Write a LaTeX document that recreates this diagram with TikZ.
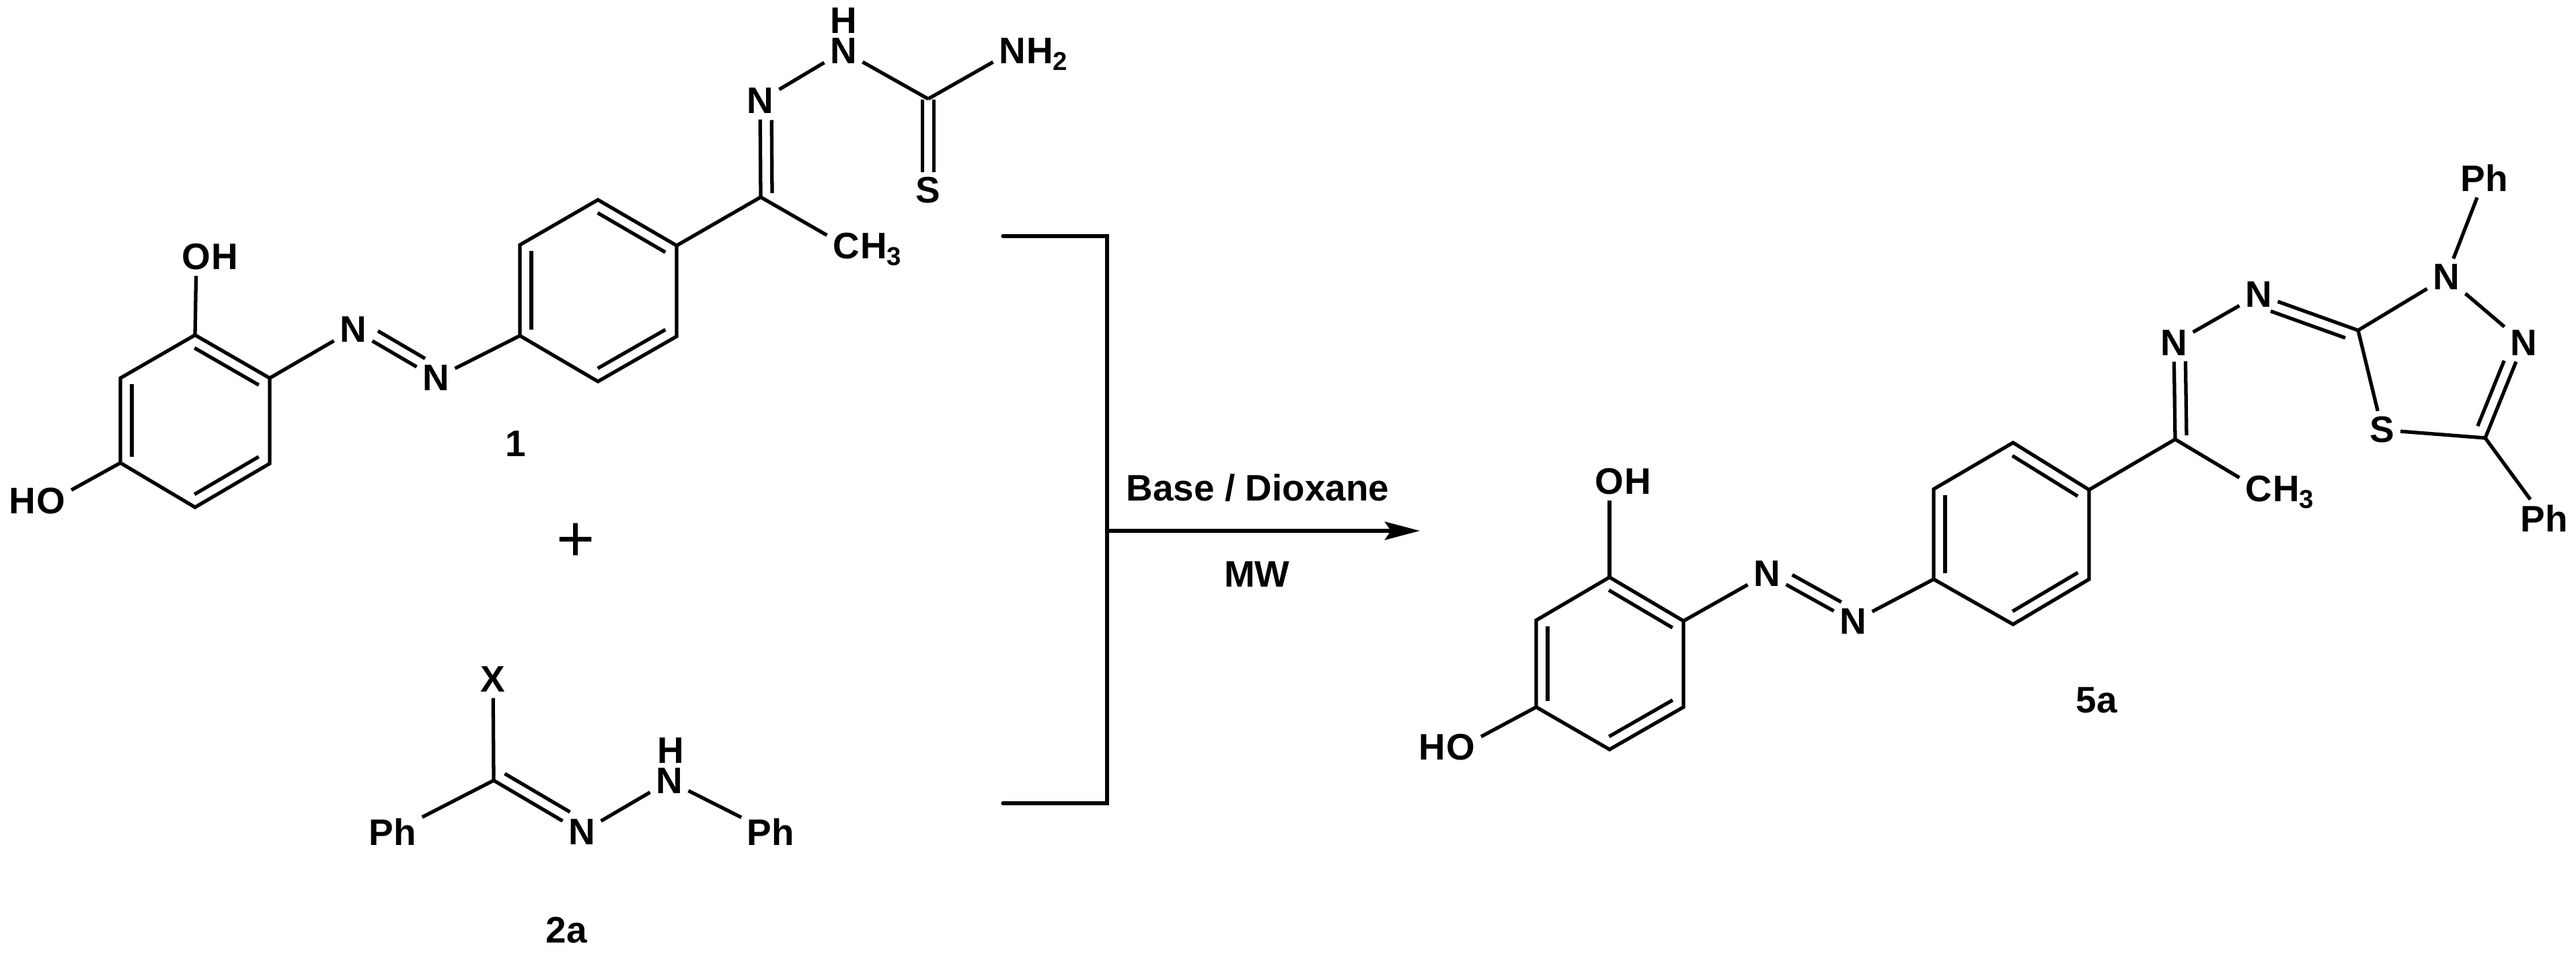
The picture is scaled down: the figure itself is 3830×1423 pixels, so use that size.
\documentclass[tikz,border=0pt]{standalone}
\usepackage{fontspec}
\setmainfont{Liberation Sans}
\usetikzlibrary{positioning}
\usetikzlibrary{calc}
\usetikzlibrary{arrows.meta}
\newcommand{\innerbond}[5][.17cm]{\draw[bond] ($(#2)!#4!(#3)!#1!90:(#3)$) -- ($(#2)!#5!(#3)!#1!90:(#3)$);}

\begin{document}
\begin{tikzpicture}[x=.01cm,y=-.01cm,bond/.style={line width=1.5pt},atom/.style={font=\fontsize{15.6}{18}\selectfont\bfseries,inner sep=.08cm},tail/.style={atom,inner sep=0pt}]
            \useasboundingbox (0,0) rectangle (3830,1423);
            \coordinate (a1) at (290,498);
            \coordinate (a2) at (179,562);
            \coordinate (a3) at (179,688);
            \coordinate (a4) at (290,754);
            \coordinate (a5) at (401,689);
            \coordinate (a6) at (401,562);
            \coordinate (b1) at (889,297);
            \coordinate (b2) at (773,364);
            \coordinate (b3) at (773,499);
            \coordinate (b4) at (889,567);
            \coordinate (b5) at (1006,500);
            \coordinate (b6) at (1006,365);
            \coordinate (pa1) at (2393,858);
            \coordinate (pa2) at (2284,922);
            \coordinate (pa3) at (2284,1051);
            \coordinate (pa4) at (2393,1114);
            \coordinate (pa5) at (2503,1051);
            \coordinate (pa6) at (2503,923);
            \coordinate (pb1) at (2993,658);
            \coordinate (pb2) at (2875,727);
            \coordinate (pb3) at (2875,861);
            \coordinate (pb4) at (2993,928);
            \coordinate (pb5) at (3106,861);
            \coordinate (pb6) at (3106,728);
            \foreach \r in {a,b,pa,pb} {
              \draw[bond] (\r1) -- (\r2) -- (\r3) -- (\r4) -- (\r5) -- (\r6) -- cycle;
              \innerbond{\r2}{\r3}{.07}{.93}
            }
            \innerbond{a4}{a5}{.07}{.93}
            \innerbond{a6}{a1}{.07}{.93}
            \innerbond{b4}{b5}{.07}{.93}
            \innerbond{b6}{b1}{.07}{.93}
            \innerbond{pa4}{pa5}{.07}{.93}
            \innerbond{pa6}{pa1}{.07}{.93}
            \innerbond{pb4}{pb5}{.07}{.93}
            \innerbond{pb6}{pb1}{.07}{.93}

            \node[atom] (oa) at (292,382) {O};
            \node[tail,base right=-.08cm of oa] (oah) {H};
            \node[atom] (ob) at (76,745) {O};
            \node[tail,base left=-.08cm of ob] (obh) {H};
            \node[atom] (na) at (525,490) {N};
            \node[atom] (nb) at (648,562) {N};
            \coordinate (c1) at (1131,293);
            \coordinate (c2) at (1380,147);
            \node[atom] (nc) at (1130,150) {N};
            \node[atom,inner ysep=.02cm] (nd) at (1254,76) {N};
            \node[tail] (hd) at (1254,31) {H};
            \node[atom] (ne) at (1505,76) {N};
            \node[tail,base right=-.08cm of ne] (neh) {H\textsubscript{2}};
            \node[atom] (sa) at (1380,283) {S};
            \node[atom] (ca) at (1258,366) {C};
            \node[tail,base right=-.08cm of ca] (cah) {H\textsubscript{3}};
            \draw[bond] (a1) -- (oa);
            \draw[bond] (a3) -- (ob);
            \draw[bond] (a6) -- (na);
            \draw[bond] (na) -- (nb);
            \innerbond{na}{nb}{.23}{.8}
            \draw[bond] (nb) -- (b3);
            \draw[bond] (b6) -- (c1);
            \draw[bond] (c1) -- (nc);
            \innerbond{nc}{c1}{.2}{.96}
            \draw[bond] (c1) -- (ca);
            \draw[bond] (nc) -- (nd);
            \draw[bond] (nd) -- (c2);
            \draw[bond] (c2) -- (ne);
            \innerbond[.085cm]{c2}{sa}{.01}{.8}
            \innerbond[-.085cm]{c2}{sa}{.01}{.8}
            \node[tail] (cmpa) at (767,660) {1};

            \node[font=\fontsize{27.8}{30}\selectfont,inner sep=0pt] (plus) at (856,806) {+};

            \coordinate (c3) at (734,1160);
            \node[atom] (xa) at (733,1010) {X};
            \node[atom] (pha) at (584,1237) {Ph};
            \node[atom] (nf) at (865,1237) {N};
            \node[atom,inner ysep=.02cm] (ng) at (995,1161) {N};
            \node[tail] (hg) at (997,1116) {H};
            \node[atom] (phb) at (1146,1237) {Ph};
            \draw[bond] (c3) -- (xa);
            \draw[bond] (c3) -- (pha);
            \draw[bond] (c3) -- (nf);
            \innerbond{c3}{nf}{.06}{.8}
            \draw[bond] (nf) -- (ng);
            \draw[bond] (ng) -- (phb);
            \node[tail] (cmpb) at (842,1383) {2a};

            \coordinate (ba) at (1491,351);
            \coordinate (bb) at (1646,351);
            \coordinate (bc) at (1646,1194);
            \coordinate (bd) at (1491,1194);
            \coordinate (be) at (1646,789);
            \coordinate (bf) at (2111,789);
            \draw[bond,line cap=round] (ba) -- (bb) -- (bc) -- (bd);
            \draw[bond,-{Stealth[length=.52cm,width=.27cm,inset=.09cm]}] (be) -- (bf);
            \node[tail] (cond) at (1870,725) {Base / Dioxane};
            \node[tail] (mw) at (1869,854) {MW};

            \node[atom] (pob) at (2393,716) {O};
            \node[tail,base right=-.08cm of pob] (pobh) {H};
            \node[atom] (poa) at (2172,1111) {O};
            \node[tail,base left=-.08cm of poa] (poah) {H};
            \node[atom] (pna) at (2627,853) {N};
            \node[atom] (pnb) at (2755,924) {N};
            \coordinate (pc1) at (3234,653);
            \coordinate (pc2) at (3506,491);
            \coordinate (pc3) at (3695,651);
            \node[atom] (pnc) at (3232,510) {N};
            \node[atom] (pnd) at (3358,438) {N};
            \node[atom] (pne) at (3637,412) {N};
            \node[atom] (pnf) at (3752,510) {N};
            \node[atom] (psa) at (3542,639) {S};
            \node[atom] (pca) at (3358,727) {C};
            \node[tail,base right=-.08cm of pca] (pcah) {H\textsubscript{3}};
            \node[atom] (ppa) at (3694,265) {Ph};
            \node[atom] (ppb) at (3783,771) {Ph};
            \draw[bond] (pa1) -- (pob);
            \draw[bond] (pa3) -- (poa);
            \draw[bond] (pa6) -- (pna);
            \draw[bond] (pna) -- (pnb);
            \innerbond{pna}{pnb}{.23}{.8}
            \draw[bond] (pnb) -- (pb3);
            \draw[bond] (pb6) -- (pc1);
            \draw[bond] (pc1) -- (pnc);
            \innerbond{pnc}{pc1}{.19}{.96}
            \draw[bond] (pc1) -- (pca);
            \draw[bond] (pnc) -- (pnd);
            \draw[bond] (pnd) -- (pc2);
            \innerbond{pc2}{pnd}{.09}{.84}
            \draw[bond] (pc2) -- (pne);
            \draw[bond] (pne) -- (ppa);
            \draw[bond] (pne) -- (pnf);
            \draw[bond] (pnf) -- (pc3);
            \innerbond{pc3}{pnf}{.08}{.77}
            \draw[bond] (pc3) -- (psa);
            \draw[bond] (psa) -- (pc2);
            \draw[bond] (pc3) -- (ppb);
            \node[tail] (cmpc) at (3117,1041) {5a};
          \end{tikzpicture}
\end{document}
